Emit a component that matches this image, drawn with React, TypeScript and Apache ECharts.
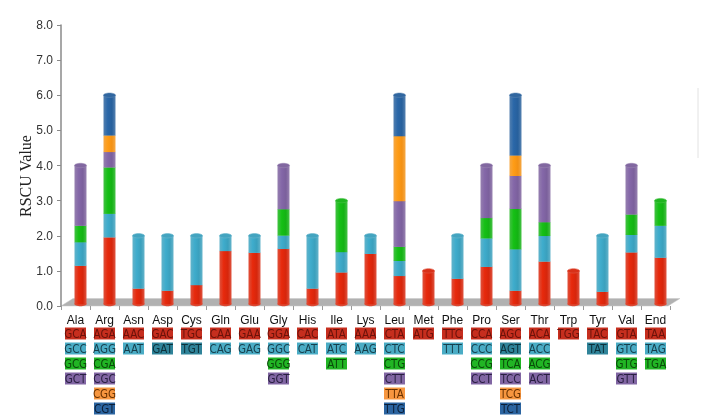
import React, { useEffect, useRef } from 'react';
import * as echarts from 'echarts';

const aminoAcids = ['Ala', 'Arg', 'Asn', 'Asp', 'Cys', 'Gln', 'Glu', 'Gly', 'His', 'Ile', 'Lys', 'Leu', 'Met', 'Phe', 'Pro', 'Ser', 'Thr', 'Trp', 'Tyr', 'Val', 'End'];

const codons: string[][] = [
  ['GCA', 'GCC', 'GCG', 'GCT'],
  ['AGA', 'AGG', 'CGA', 'CGC', 'CGG', 'CGT'],
  ['AAC', 'AAT'],
  ['GAC', 'GAT'],
  ['TGC', 'TGT'],
  ['CAA', 'CAG'],
  ['GAA', 'GAG'],
  ['GGA', 'GGC', 'GGG', 'GGT'],
  ['CAC', 'CAT'],
  ['ATA', 'ATC', 'ATT'],
  ['AAA', 'AAG'],
  ['CTA', 'CTC', 'CTG', 'CTT', 'TTA', 'TTG'],
  ['ATG'],
  ['TTC', 'TTT'],
  ['CCA', 'CCC', 'CCG', 'CCT'],
  ['AGC', 'AGT', 'TCA', 'TCC', 'TCG', 'TCT'],
  ['ACA', 'ACC', 'ACG', 'ACT'],
  ['TGG'],
  ['TAC', 'TAT'],
  ['GTA', 'GTC', 'GTG', 'GTT'],
  ['TAA', 'TAG', 'TGA'],
];

const rscu: number[][] = [
  [1.15, 0.67, 0.47, 1.71],
  [1.96, 0.67, 1.32, 0.44, 0.47, 1.14],
  [0.5, 1.5],
  [0.44, 1.56],
  [0.6, 1.4],
  [1.57, 0.43],
  [1.52, 0.48],
  [1.63, 0.38, 0.75, 1.24],
  [0.5, 1.5],
  [0.96, 0.58, 1.46],
  [1.49, 0.51],
  [0.86, 0.43, 0.4, 1.3, 1.85, 1.16],
  [1.0],
  [0.78, 1.22],
  [1.12, 0.81, 0.58, 1.49],
  [0.44, 1.18, 1.15, 0.94, 0.58, 1.71],
  [1.27, 0.73, 0.39, 1.61],
  [1.0],
  [0.41, 1.59],
  [1.53, 0.5, 0.58, 1.39],
  [1.38, 0.91, 0.71],
];

const darkTealCodons = ['GAT', 'TGT', 'AGT', 'TAT'];

const yAxisTitle = 'RSCU Value';

const barColors = ['#d6260c', '#3aa0bd', '#14b214', '#7b609c', '#f39114', '#27609c'];
const boxColors = ['#c62e1e', '#4aacc5', '#21b524', '#8166a3', '#f7963f', '#2b64a0'];
const boxTextColors = ['#6a120a', '#163f4c', '#0a4a0a', '#281e40', '#6a3200', '#0b1e36'];

export default function App() {
  const ref = useRef<HTMLDivElement>(null);

  useEffect(() => {
    if (!ref.current) return;
    const chart = echarts.init(ref.current, undefined, { renderer: 'svg' });

    const boxBase = {
      fontSize: 11.5,
      fontFamily: '"Liberation Sans Narrow", "DejaVu Sans Condensed", "Open Sans", sans-serif',
      width: 19,
      align: 'center',
      padding: [0, 1],
      lineHeight: 15,
    };
    const rich: any = {
      n: { fontSize: 12, fontFamily: '"Liberation Sans", Arial, sans-serif', color: '#111', lineHeight: 12 },
      dt: { ...boxBase, backgroundColor: '#2f8399', color: '#0c303a' },
    };
    boxColors.forEach((c, p) => {
      rich['c' + p] = { ...boxBase, backgroundColor: c, color: boxTextColors[p] };
    });

    const lift = (c: string, l: number) => echarts.color.lift(c, l);

    const option: any = {
      animation: false,
      grid: { left: 61, right: 39, top: 25, bottom: 110, containLabel: false },
      xAxis: {
        type: 'category',
        data: aminoAcids,
        axisLine: { show: false },
        axisTick: { show: true, length: 4, lineStyle: { color: '#9a9a9a' } },
        axisLabel: {
          interval: 0,
          margin: 8,
          rich,
          formatter: (value: string, index: number) =>
            `{n|${value}}\n` +
            codons[index]
              .map((c, p) => `{${p === 1 && darkTealCodons.includes(c) ? 'dt' : 'c' + p}|${c}}`)
              .join('\n'),
        },
      },
      yAxis: {
        type: 'value',
        min: 0,
        max: 8,
        interval: 1,
        axisLine: { show: true, lineStyle: { color: '#8a8a8a', width: 1.5 } },
        axisTick: { show: true, length: 4, lineStyle: { color: '#8a8a8a' } },
        axisLabel: {
          margin: 8,
          fontSize: 12,
          fontFamily: '"Liberation Sans", Arial, sans-serif',
          color: '#333',
          formatter: (v: number) => v.toFixed(1),
        },
        splitLine: { show: false },
      },
      graphic: [
        {
          type: 'polygon',
          z: 0,
          shape: { points: [[61, 306], [668, 306], [680, 298.5], [73, 298.5]] },
          style: { fill: '#b1b1b1', stroke: '#c8c8c8', lineWidth: 0.5 },
        },
        {
          type: 'line',
          z: 0,
          shape: { x1: 698, y1: 88, x2: 698, y2: 158 },
          style: { stroke: '#e2e2e2', lineWidth: 1 },
        },
        {
          type: 'text',
          x: 25,
          y: 176,
          rotation: Math.PI / 2,
          style: {
            text: yAxisTitle,
            fontFamily: '"Liberation Serif", "Times New Roman", serif',
            fontSize: 16,
            fill: '#222',
            align: 'center',
            verticalAlign: 'middle',
          },
        },
      ],
      series: [
        {
          type: 'custom',
          data: aminoAcids.map((a, i) => [i, rscu[i].reduce((s, v) => s + v, 0)]),
          encode: { x: 0, y: 1 },
          z: 5,
          renderItem: (params: any, api: any) => {
            const idx = api.value(0);
            const vals = rscu[params.dataIndex];
            const cx = api.coord([idx, 0])[0] + 5;
            const w = 12;
            const children: any[] = [];
            let cum = 0;
            const baseY = api.coord([idx, 0])[1] - 2;
            children.push({
              type: 'ellipse',
              shape: { cx, cy: baseY, rx: w / 2, ry: 2.2 },
              style: { fill: lift(barColors[0], 0.15) },
            });
            vals.forEach((v, p) => {
              const y0 = p === 0 ? baseY : api.coord([idx, cum])[1];
              const y1 = api.coord([idx, cum + v])[1];
              const col = barColors[p];
              children.push({
                type: 'rect',
                shape: { x: cx - w / 2, y: y1, width: w, height: y0 - y1 + 0.3 },
                style: {
                  fill: new echarts.graphic.LinearGradient(0, 0, 1, 0, [
                    { offset: 0, color: lift(col, 0.2) },
                    { offset: 0.35, color: lift(col, -0.08) },
                    { offset: 0.7, color: col },
                    { offset: 1, color: lift(col, 0.22) },
                  ]),
                },
              });
              cum += v;
            });
            const topY = api.coord([idx, cum])[1];
            const topCol = barColors[vals.length - 1];
            children.push({
              type: 'ellipse',
              shape: { cx, cy: topY, rx: w / 2, ry: 2.2 },
              style: { fill: lift(topCol, 0.05), stroke: lift(topCol, 0.25), lineWidth: 0.6 },
            });
            return { type: 'group', children };
          },
        },
      ],
    };

    chart.setOption(option);
    return () => chart.dispose();
  }, []);

  return <div ref={ref} style={{ position: 'fixed', left: 0, top: 0, width: 709, height: 416 }} />;
}
